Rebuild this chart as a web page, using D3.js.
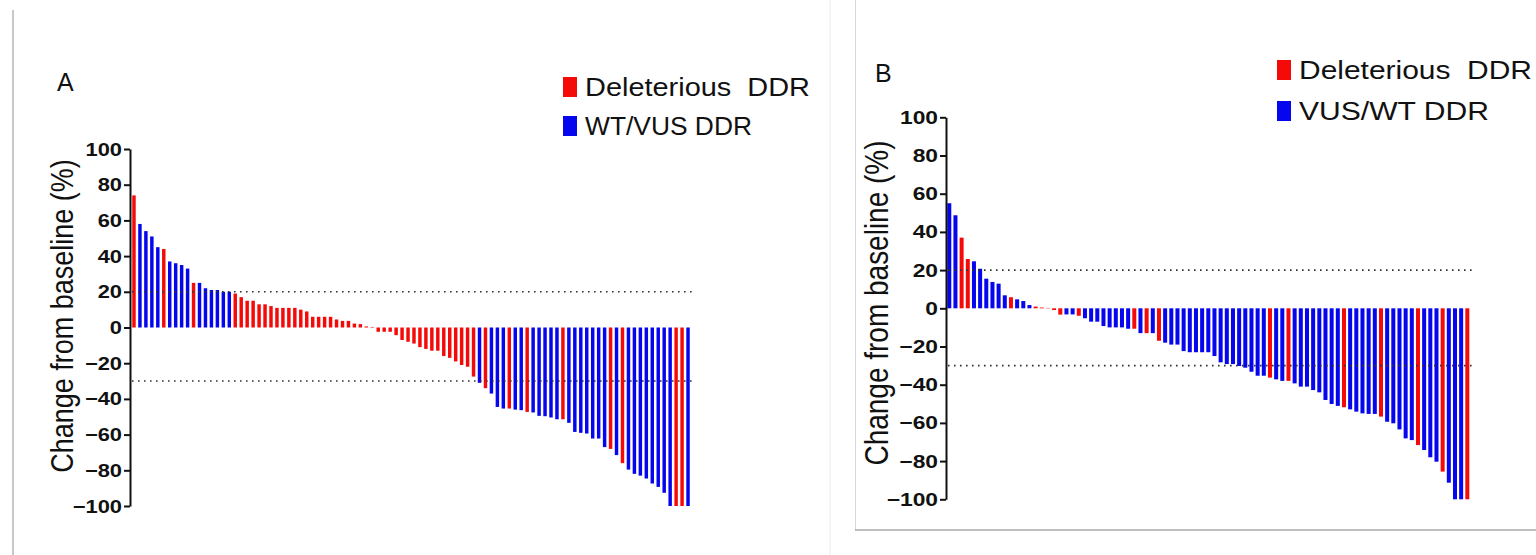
<!DOCTYPE html>
<html>
<head>
<meta charset="utf-8">
<script src="https://cdn.jsdelivr.net/npm/d3@7"></script>
<style>
  body { margin: 0; background: #fff; }
  svg { display: block; font-family: "Liberation Sans", Arial, sans-serif; }
</style>
</head>
<body>
<svg id="chart" width="1536" height="555"></svg>
<script>
// panel A: best % change from baseline, sorted
const valuesA = [74, 58, 54, 51, 45, 44, 37, 36, 35, 33,
  25, 25, 22, 21, 21, 20, 20, 19, 17, 15,
  15, 13, 13, 12, 11, 11, 11, 11, 10, 9,
  6, 6, 6, 6, 4.5, 3.7, 3.7, 2.2, 1.9, 0.6,
  0.3, -2.4, -2.4, -2.4, -4.3, -7, -8, -9, -11, -12,
  -13, -13, -16, -17, -19, -21, -22, -27.5, -31, -34,
  -37, -44.5, -45.4, -45.4, -46, -46.3, -47.3, -47.6, -49.5, -49.7,
  -50.4, -51.4, -51.4, -53.4, -58.5, -59, -59.4, -62.2, -62.2, -67,
  -68, -71.5, -76, -79.6, -82, -83, -84.6, -87.4, -89.3, -92.6,
  -100, -100, -100, -100];
// D = deleterious DDR, W = WT/VUS DDR
const groupA = ["D","W","W","W","W","D","W","W","W","W",
  "D","W","W","W","W","W","W","D","D","D",
  "D","D","D","D","D","D","D","D","D","D",
  "D","D","D","D","D","D","D","D","D","D",
  "D","D","D","D","D","D","D","D","D","D",
  "D","D","D","D","D","D","D","D","W","D",
  "W","W","W","D","W","W","D","W","W","W",
  "W","W","D","W","W","W","W","W","W","W",
  "D","W","D","W","W","W","W","W","W","W",
  "W","D","D","W"];

// panel B
const valuesB = [55, 48.7, 37, 25.8, 24.6, 20.7, 15.5, 13.8, 12.9, 6.8,
  5.8, 4.7, 3.8, 1.7, 0.9, 0.4, 0.2, -0.9, -3.3, -3.2,
  -3.2, -3.9, -5.2, -7, -7, -9.3, -10, -10, -10, -10.7,
  -10.7, -13, -13, -13, -17, -18, -19, -19, -22.4, -23,
  -23, -23, -23, -25, -28.3, -29.2, -29.2, -30.2, -31.1, -33.2,
  -35.3, -35.3, -36.3, -37.2, -38, -38, -39.3, -41, -41, -42.8,
  -44, -48, -50.1, -51.1, -51.8, -52.9, -54.1, -55, -55.3, -55.3,
  -56.7, -59.4, -60.2, -63.4, -68.1, -69, -71.6, -74.2, -78, -80.3,
  -85.5, -91.3, -100, -100, -100];
const groupB = ["W","W","D","D","W","W","W","W","W","W",
  "D","W","W","W","D","D","D","D","D","W",
  "W","D","W","W","W","W","W","W","W","W",
  "D","W","D","W","D","W","W","W","W","W",
  "W","W","W","W","W","W","W","W","W","W",
  "W","W","D","W","W","D","W","W","W","W",
  "W","W","W","W","D","W","W","W","W","W",
  "D","W","W","W","W","W","D","W","W","W",
  "D","W","W","W","D"];

const yTicks = [-100, -80, -60, -40, -20, 0, 20, 40, 60, 80, 100];
const thresholds = [20, -30];
const legendA = ["Deleterious  DDR", "WT/VUS DDR"];
const legendB = ["Deleterious  DDR", "VUS/WT DDR"];
const yTitle = "Change from baseline (%)";

const color = d3.scaleOrdinal().domain(["D", "W"]).range(["#f50a0a", "#0505ee"]);

const svg = d3.select("#chart");

// page frame lines
svg.append("line").attr("x1", 13).attr("x2", 13).attr("y1", 10).attr("y2", 555)
  .attr("stroke", "#c8c8c8").attr("stroke-width", 2);
svg.append("line").attr("x1", 830).attr("x2", 830).attr("y1", 0).attr("y2", 555)
  .attr("stroke", "#ececec").attr("stroke-width", 1);
svg.append("line").attr("x1", 855.5).attr("x2", 855.5).attr("y1", 0).attr("y2", 530)
  .attr("stroke", "#d8d8d8").attr("stroke-width", 1);
svg.append("line").attr("x1", 855).attr("x2", 1536).attr("y1", 530).attr("y2", 530)
  .attr("stroke", "#a8a8a8").attr("stroke-width", 1.5);

function drawPanel(values, groups, legend, p) {
  const g = svg.append("g");

  const x = d3.scaleBand()
    .domain(d3.range(values.length))
    .range([p.x0, p.x1])
    .paddingInner(p.pad)
    .paddingOuter(p.pad / 2);
  const y = d3.scaleLinear().domain([-100, 100]).range([p.yBottom, p.yTop]);

  // bars
  g.selectAll("rect.bar")
    .data(values)
    .join("rect")
    .attr("class", "bar")
    .attr("x", (d, i) => x(i))
    .attr("width", x.bandwidth())
    .attr("y", d => y(Math.max(0, d)))
    .attr("height", d => Math.abs(y(d) - y(0)))
    .attr("fill", (d, i) => color(groups[i]));

  // dotted reference lines
  g.selectAll("line.ref")
    .data(thresholds)
    .join("line")
    .attr("class", "ref")
    .attr("x1", p.axisX + 2).attr("x2", p.lineEnd)
    .attr("y1", d => y(d)).attr("y2", d => y(d))
    .attr("stroke", "#333")
    .attr("stroke-width", 1.6)
    .attr("stroke-dasharray", "1.6,4.4");

  // y axis
  const ax = g.append("g")
    .attr("transform", `translate(${p.axisX},0)`)
    .call(d3.axisLeft(y).tickValues(yTicks).tickSize(6).tickSizeOuter(0));
  ax.select(".domain").attr("stroke", "#111").attr("stroke-width", 2);
  ax.selectAll(".tick line").attr("stroke", "#111").attr("stroke-width", 2);
  ax.selectAll(".tick text")
    .attr("fill", "#111")
    .style("font-size", "19px")
    .style("font-weight", "bold")
    .style("font-family", '"Liberation Sans", Arial, sans-serif')
    .attr("x", -8 / p.sx)
    .attr("transform", `scale(${p.sx},1)`);

  // axis title (slightly widened like the source image)
  g.append("text")
    .attr("transform", `translate(${p.titleX},${p.titleY}) scale(1.18,1) rotate(-90)`)
    .attr("text-anchor", "middle")
    .style("font-size", p.titleSize + "px")
    .attr("fill", "#111")
    .text(yTitle);

  // panel letter
  g.append("text")
    .attr("x", p.letterX).attr("y", p.letterY)
    .style("font-size", "25px")
    .attr("fill", "#111")
    .text(p.letter);

  // legend
  legend.forEach((label, i) => {
    const ly = p.legendY + i * p.legendGap;
    g.append("rect")
      .attr("x", p.legendX).attr("y", ly)
      .attr("width", 14).attr("height", 20)
      .attr("fill", color(["D", "W"][i]));
    g.append("text")
      .attr("x", p.legendX + 22).attr("y", ly + 19)
      .style("font-size", "25px")
      .style("white-space", "pre")
      .attr("fill", "#111")
      .attr("textLength", p.legendW[i])
      .attr("lengthAdjust", "spacingAndGlyphs")
      .text(label);
  });
}

drawPanel(valuesA, groupA, legendA, {
  x0: 131, x1: 691, pad: 0.42,
  yTop: 149, yBottom: 506, axisX: 130, lineEnd: 692, sx: 1.15,
  titleX: 73, titleY: 316, titleSize: 27,
  letter: "A", letterX: 57, letterY: 91,
  legendX: 563, legendY: 77, legendGap: 39, legendW: [225, 167]
});

drawPanel(valuesB, groupB, legendB, {
  x0: 946.2, x1: 1470.4, pad: 0.35,
  yTop: 117.3, yBottom: 499.3, axisX: 946, lineEnd: 1476, sx: 1.2,
  titleX: 888, titleY: 303, titleSize: 28,
  letter: "B", letterX: 875, letterY: 82,
  legendX: 1277, legendY: 60, legendGap: 41, legendW: [233, 190]
});
</script>
</body>
</html>
